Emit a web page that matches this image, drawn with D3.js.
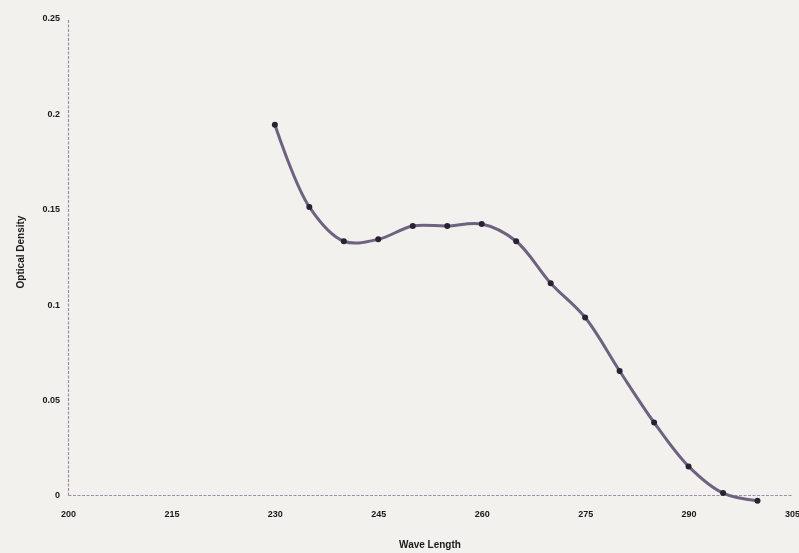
<!DOCTYPE html>
<html>
<head>
<meta charset="utf-8">
<script src="https://cdn.jsdelivr.net/npm/d3@7"></script>
<style>
  body { margin: 0; background: #f3f1ee; }
  svg { display: block; }
</style>
</head>
<body>
<div id="chart"></div>
<script>
// wavelength (nm) and optical density
const waveLength = [230, 235, 240, 245, 250, 255, 260, 265, 270, 275, 280, 285, 290, 295, 300];
const density = [0.194, 0.151, 0.133, 0.134, 0.141, 0.141, 0.142, 0.133, 0.111, 0.093, 0.065, 0.038, 0.015, 0.001, -0.003];
const xTicks = [200, 215, 230, 245, 260, 275, 290, 305];
const yTicks = [0, 0.05, 0.1, 0.15, 0.2, 0.25];

const width = 799, height = 553;

const svg = d3.select('#chart')
    .append('svg')
    .attr('width', width)
    .attr('height', height);

svg.append('rect')
    .attr('width', width)
    .attr('height', height)
    .attr('fill', '#f3f1ee');

// soft blur to look like the photographed print
svg.append('defs').append('filter')
    .attr('id', 'soft')
    .append('feGaussianBlur')
    .attr('stdDeviation', 0.6);

const g = svg.append('g').attr('filter', 'url(#soft)');

const x = d3.scaleLinear().domain([200, 305]).range([68, 792]);
const y = d3.scaleLinear().domain([0, 0.25]).range([495, 18]);

// axes
const xAxis = g.append('g')
    .attr('transform', `translate(0,${y(0)})`)
    .call(d3.axisBottom(x).tickValues(xTicks).tickSize(0).tickPadding(16).tickFormat(d3.format('d')));
const yAxis = g.append('g')
    .attr('transform', `translate(${x(200)},0)`)
    .call(d3.axisLeft(y).tickValues(yTicks).tickSize(0).tickPadding(8).tickFormat(d => d === 0 ? '0' : String(d)));

[xAxis, yAxis].forEach(a => {
    a.select('.domain')
        .attr('stroke', '#9b90aa')
        .attr('stroke-width', 1.2)
        .attr('stroke-dasharray', '3,1.5');
    a.selectAll('text')
        .attr('font-family', 'Liberation Sans, Arial, sans-serif')
        .attr('font-weight', 'bold')
        .attr('font-size', 9)
        .attr('fill', '#1a1a1a');
});

// axis titles
g.append('text')
    .attr('x', 430)
    .attr('y', 548)
    .attr('text-anchor', 'middle')
    .attr('font-family', 'Liberation Sans, Arial, sans-serif')
    .attr('font-weight', 'bold')
    .attr('font-size', 10)
    .attr('fill', '#1a1a1a')
    .text('Wave Length');

g.append('text')
    .attr('transform', 'translate(24,252) rotate(-90)')
    .attr('text-anchor', 'middle')
    .attr('font-family', 'Liberation Sans, Arial, sans-serif')
    .attr('font-weight', 'bold')
    .attr('font-size', 10)
    .attr('fill', '#1a1a1a')
    .text('Optical Density');

const points = waveLength.map((w, i) => ({ w, d: density[i] }));

// smooth curve
g.append('path')
    .datum(points)
    .attr('fill', 'none')
    .attr('stroke', '#6e6280')
    .attr('stroke-width', 3)
    .attr('d', d3.line()
        .x(d => x(d.w))
        .y(d => y(d.d))
        .curve(d3.curveCatmullRom.alpha(0.5)));

// data markers
g.append('g')
    .selectAll('circle')
    .data(points)
    .enter()
    .append('circle')
    .attr('cx', d => x(d.w))
    .attr('cy', d => y(d.d))
    .attr('r', 3)
    .attr('fill', '#2a2430');
</script>
</body>
</html>
